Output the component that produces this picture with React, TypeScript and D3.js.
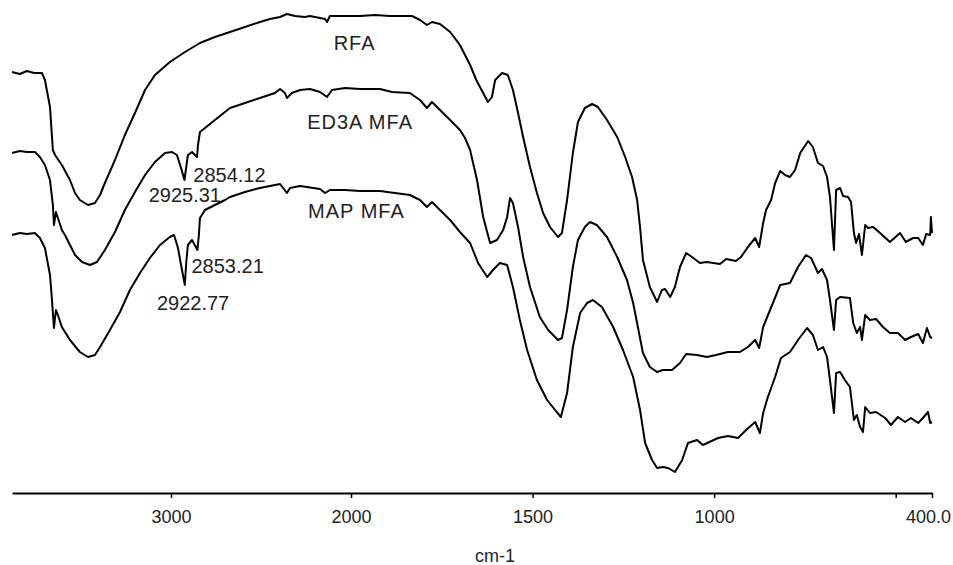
import * as d3 from "d3";
import { useRef, useEffect } from "react";

// [wavenumber cm-1, transmittance (offset, a.u.)]
const rfa: [number, number][] = [
  [3883, 85.6], [3840, 85.2], [3800, 85.8], [3760, 85.4], [3717, 85.4], [3700, 84],
  [3672, 78.6], [3656, 70], [3644, 69], [3606, 67], [3561, 64], [3533, 61.4],
  [3506, 60], [3461, 59], [3422, 59.4], [3394, 61], [3367, 63.4], [3311, 68],
  [3256, 73], [3200, 77.4], [3144, 82], [3089, 85], [3006, 87.6], [2922, 89.6],
  [2839, 91.4], [2756, 92.6], [2672, 93.6], [2589, 94.6], [2506, 95.6], [2450, 96.2],
  [2394, 96.6], [2356, 97.2], [2311, 96.8], [2256, 96.6], [2228, 96.8], [2144, 96.2],
  [2133, 95.6], [2117, 96.8], [1975, 96.8], [1934, 97], [1893, 96.8], [1832, 96.8],
  [1810, 96], [1791, 95], [1777, 95.6], [1755, 95.2], [1727, 93.6], [1700, 91],
  [1672, 87], [1655, 84], [1636, 81.4], [1623, 79.6], [1612, 80.6], [1603, 84],
  [1584, 85.4], [1568, 85], [1554, 82], [1540, 77.4], [1526, 72.6], [1507, 66.6],
  [1488, 61.4], [1471, 57.4], [1452, 54.6], [1430, 52.6], [1419, 53.4], [1405, 60],
  [1389, 69.4], [1375, 75.6], [1356, 78.4], [1336, 79.2], [1320, 78.6], [1295, 76],
  [1267, 72.6], [1245, 68.6], [1226, 64.6], [1212, 60], [1204, 54.6], [1196, 48],
  [1177, 42.6], [1157, 39.6], [1144, 42], [1135, 42.2], [1121, 40.6], [1108, 42.6],
  [1094, 46.6], [1077, 49.4], [1061, 48.6], [1039, 47.4], [1020, 47.6], [984, 47.2],
  [967, 48.2], [940, 47.8], [926, 48.6], [907, 50.6], [887, 52.4], [876, 50.6],
  [865, 55.4], [857, 58], [843, 60], [832, 63.4], [818, 65.8], [805, 65],
  [791, 64.6], [777, 66], [763, 69.4], [741, 71.8], [728, 70.6], [714, 67.4],
  [700, 66.8], [689, 64.6], [681, 60.6], [670, 50], [664, 62], [653, 62.4],
  [645, 60.8], [631, 60.6], [623, 59.6], [615, 53.4], [609, 51.4], [601, 53.2],
  [593, 49], [584, 55], [576, 54.4], [562, 54.6], [543, 53.4], [516, 51.6],
  [488, 53.4], [472, 51.6], [452, 52.4], [438, 52.4], [425, 51], [416, 53.2],
  [405, 53], [403, 56.6], [400, 53.4],
];

const ed3aMfa: [number, number][] = [
  [3883, 69.4], [3840, 69.8], [3800, 69.6], [3756, 69.6], [3728, 68.6], [3700, 67],
  [3672, 64], [3656, 59], [3650, 55], [3639, 57.6], [3628, 56.4], [3606, 54],
  [3589, 53], [3561, 51], [3533, 49], [3494, 47.6], [3450, 47], [3411, 47.6],
  [3367, 50], [3311, 53.6], [3256, 58], [3200, 61.6], [3144, 65], [3089, 67.6],
  [3033, 69.4], [2994, 69.6], [2967, 69], [2944, 66.4], [2925, 64], [2906, 69],
  [2883, 69.6], [2867, 69], [2855, 68.6], [2850, 71], [2839, 73.6], [2811, 74.4],
  [2756, 76], [2700, 77.6], [2672, 78.4], [2589, 79.4], [2506, 80.4], [2422, 81.4],
  [2394, 82.2], [2367, 81.4], [2356, 80.4], [2328, 81.4], [2283, 82], [2228, 82.2],
  [2172, 81.6], [2133, 80.6], [2106, 82], [2033, 82.4], [1975, 82.2], [1920, 82.2],
  [1887, 81.6], [1838, 81.4], [1810, 80], [1791, 78.4], [1777, 79.6], [1755, 78],
  [1727, 76], [1700, 74], [1686, 72.4], [1672, 70], [1653, 64], [1636, 56.6],
  [1617, 51.4], [1598, 52], [1581, 54], [1570, 56.6], [1562, 60.4], [1554, 59.4],
  [1540, 54.6], [1526, 48.6], [1507, 42.6], [1480, 36.6], [1457, 34], [1430, 32],
  [1419, 32.4], [1405, 38], [1389, 46.6], [1375, 52], [1356, 54.6], [1342, 55.6],
  [1323, 55], [1295, 52.6], [1267, 48.6], [1240, 44], [1223, 39.4], [1210, 34.6],
  [1196, 29.4], [1177, 26.6], [1157, 25.6], [1141, 26], [1116, 26], [1094, 27.4],
  [1077, 29.2], [1047, 29], [1020, 28.6], [995, 29], [962, 29.6], [929, 29.6],
  [907, 30.6], [887, 32], [876, 30.4], [865, 34.6], [846, 38], [818, 43],
  [791, 43.4], [769, 46.6], [747, 49], [733, 48.4], [714, 45.4], [703, 46.2],
  [689, 44], [681, 40], [670, 34], [664, 40], [653, 40.6], [626, 40.4],
  [617, 35.4], [607, 33.4], [598, 34.6], [593, 32], [584, 37], [571, 36],
  [554, 36.2], [535, 34.6], [516, 33.4], [494, 33.4], [474, 32], [458, 32.6],
  [438, 33.2], [425, 31.4], [414, 34.4], [405, 32.6], [400, 32.4],
];

const mapMfa: [number, number][] = [
  [3883, 53], [3840, 53.4], [3800, 53.2], [3756, 53.4], [3728, 52.4], [3700, 50.4],
  [3672, 45], [3661, 40], [3650, 34.4], [3639, 38], [3628, 37], [3606, 34.6],
  [3561, 32], [3506, 29.6], [3461, 28.6], [3422, 29], [3394, 30.6], [3339, 34],
  [3283, 37.6], [3228, 42], [3172, 45.4], [3117, 48.4], [3061, 51], [3006, 52.6],
  [2983, 53], [2961, 50.4], [2944, 47], [2923, 43], [2915, 47.6], [2906, 51],
  [2883, 52], [2853, 50], [2845, 53], [2839, 56.4], [2811, 58], [2756, 59],
  [2700, 60], [2672, 60.6], [2589, 61.6], [2506, 62.4], [2450, 62.8], [2394, 63.2],
  [2356, 61.4], [2339, 62.4], [2283, 62.8], [2172, 62.2], [2144, 61.4], [2117, 62],
  [2033, 62], [1975, 61.8], [1920, 61.8], [1879, 61.4], [1838, 61], [1810, 60],
  [1791, 58.6], [1777, 59.6], [1755, 58], [1727, 56], [1700, 53.6], [1672, 51.4],
  [1650, 47.4], [1625, 44.6], [1609, 46], [1590, 47.4], [1570, 47], [1554, 42.6],
  [1535, 36], [1515, 30], [1488, 24], [1460, 20], [1438, 18], [1422, 16.6],
  [1405, 21.4], [1389, 30.6], [1369, 37.4], [1350, 39.4], [1334, 40], [1309, 38.6],
  [1278, 34.6], [1251, 30], [1223, 24.6], [1204, 18], [1190, 11.4], [1171, 8],
  [1157, 6.4], [1141, 6.6], [1127, 6.4], [1108, 5.6], [1088, 8], [1072, 11.4],
  [1047, 12], [1031, 11], [989, 12.4], [962, 12.8], [934, 12.4], [912, 14],
  [887, 15.6], [874, 13.4], [865, 17.4], [852, 20.6], [832, 24.6], [816, 28.4],
  [791, 29.6], [769, 32], [744, 34.4], [728, 33], [714, 30], [700, 30.6],
  [689, 28.6], [681, 24], [670, 17.4], [664, 25.4], [653, 25.6], [640, 24],
  [626, 22.6], [615, 16], [607, 17], [598, 14.6], [590, 13.6], [584, 18.6],
  [571, 17.4], [554, 17.6], [529, 16.4], [513, 15], [494, 16.6], [474, 15.6],
  [458, 16.4], [438, 15.4], [425, 16.4], [411, 17.6], [405, 15.4], [400, 15.6],
];

const seriesNames = ["RFA", "ED3A MFA", "MAP MFA"];
// label anchor per series: [wavenumber, transmittance]
const seriesLabelPos: [number, number][] = [[1990, 90], [1975, 74.2], [1985, 56.4]];

const peakLabels = ["2854.12", "2925.31", "2853.21", "2922.77"];
const peakLabelPos: [number, number][] = [[2876, 63.6], [3124, 59.6], [2886, 45.4], [3078, 38]];

const tickValues = [3000, 2000, 1500, 1000, 500, 400];
const xLabel = "cm-1";

const font = "'Liberation Sans', Arial, Helvetica, sans-serif";

export default function App() {
  const width = 953;
  const height = 565;
  const axisY = 493;
  const gx = useRef<SVGGElement>(null);

  // the instrument's split abscissa: 4000-2000 at half the scale of 2000-400
  const x = d3.scaleLinear().domain([3883, 2000, 400]).range([12, 351, 932]);
  const y = d3.scaleLinear().domain([0, 100]).range([500, 0]);

  const line = d3
    .line<[number, number]>()
    .x((d) => x(d[0]))
    .y((d) => y(d[1]));

  useEffect(() => {
    const xAxis = d3
      .axisBottom(x)
      .tickValues(tickValues)
      .tickSizeInner(5)
      .tickSizeOuter(0)
      .tickPadding(12)
      .tickFormat((d) => (d === 400 ? "400.0" : d === 500 ? "" : String(d)));
    const g = d3.select(gx.current);
    g.call(xAxis as any);
    g.select(".domain").attr("stroke-width", 2);
    g.selectAll(".tick line").attr("stroke-width", 1.5);
    g.selectAll(".tick text")
      .attr("font-family", font)
      .attr("font-size", 18)
      .attr("fill", "#222");
    g.select(".tick:last-of-type text").attr("dx", -4);
  }, []);

  const series = [rfa, ed3aMfa, mapMfa];

  return (
    <svg
      width={width}
      height={height}
      style={{ position: "absolute", left: 0, top: 0, background: "#fff" }}
    >
      <g fill="none" stroke="#000" strokeWidth={2} strokeLinejoin="round">
        {series.map((s, i) => (
          <path key={i} d={line(s) ?? ""} />
        ))}
      </g>
      <g fontFamily={font} fontSize={20} fill="#222">
        {seriesNames.map((n, i) => (
          <text
            key={n}
            x={x(seriesLabelPos[i][0])}
            y={y(seriesLabelPos[i][1])}
            textAnchor="middle"
            letterSpacing={1}
          >
            {n}
          </text>
        ))}
        {peakLabels.map((t, i) => (
          <text key={t} x={x(peakLabelPos[i][0])} y={y(peakLabelPos[i][1])}>
            {t}
          </text>
        ))}
      </g>
      <g ref={gx} transform={`translate(0,${axisY})`} />
      <text
        x={495}
        y={562}
        textAnchor="middle"
        fontFamily={font}
        fontSize={18}
        fill="#222"
      >
        {xLabel}
      </text>
    </svg>
  );
}
